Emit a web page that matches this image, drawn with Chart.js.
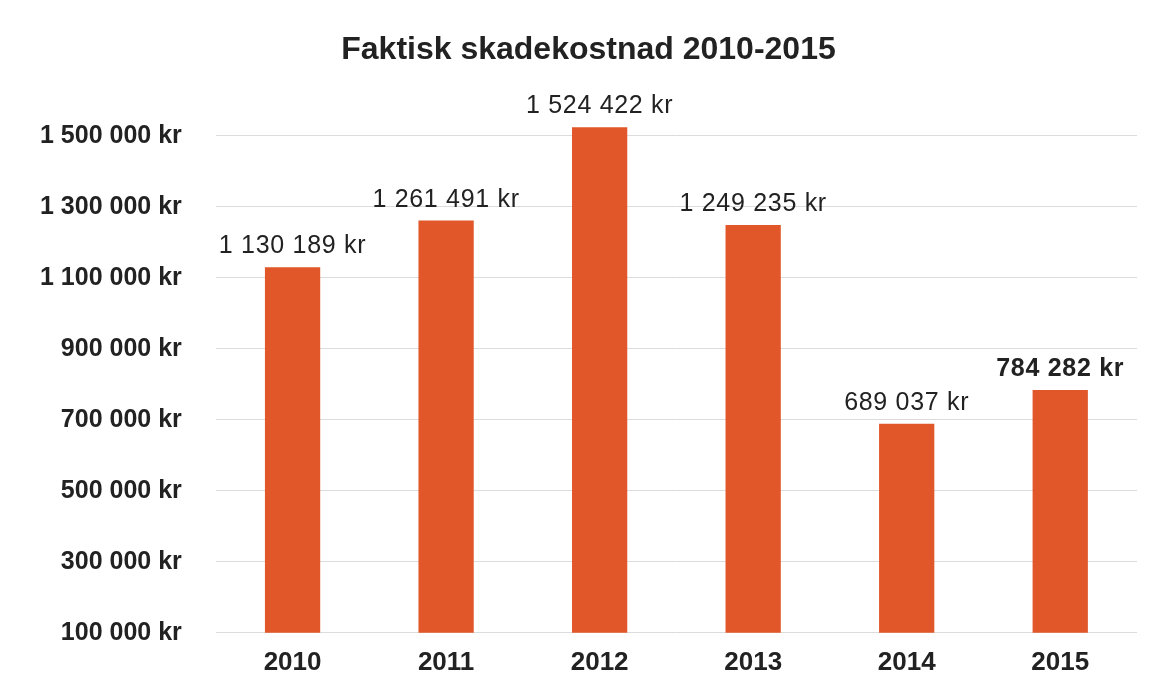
<!DOCTYPE html>
<html>
<head>
<meta charset="utf-8">
<script src="https://cdn.jsdelivr.net/npm/chart.js@4.4.0/dist/chart.umd.min.js"></script>
<style>
  html, body { margin: 0; padding: 0; background: #fff; }
  #wrap { width: 1153px; height: 692px; }
</style>
</head>
<body>
<div id="wrap"><canvas id="myChart"></canvas></div>
<script>
let years = ['2010', '2011', '2012', '2013', '2014', '2015']
let kostnad = [1130189, 1261491, 1524422, 1249235, 689037, 784282]
let tickVals = [100000, 300000, 500000, 700000, 900000, 1100000, 1300000, 1500000]
let boldLabel = [false, false, false, false, false, true]

function kr(v) {
    return String(v).replace(/\B(?=(\d{3})+(?!\d))/g, ' ') + ' kr'
}

// value labels over the bars
const barLabels = {
    id: 'barLabels',
    afterDatasetsDraw(chart) {
        const ctx = chart.ctx
        const meta = chart.getDatasetMeta(0)
        ctx.save()
        ctx.fillStyle = '#222'
        ctx.textAlign = 'center'
        ctx.textBaseline = 'alphabetic'
        ctx.letterSpacing = '0.7px'
        meta.data.forEach((bar, i) => {
            ctx.font = (boldLabel[i] ? 'bold ' : '') + '25px "Liberation Sans", Arial, sans-serif'
            ctx.fillText(kr(kostnad[i]), bar.x, bar.y - 14)
        })
        ctx.restore()
    }
}

const ctx = document.getElementById('myChart')

new Chart(ctx, {
    type: 'bar',
    data: {
        labels: years,
        datasets: [{
            data: kostnad,
            backgroundColor: '#e2572a',
            borderWidth: 0,
            barPercentage: 0.36,
            categoryPercentage: 1
        }]
    },
    options: {
        responsive: true,
        maintainAspectRatio: false,
        animation: false,
        layout: {
            padding: { left: 40, right: 16, top: 0, bottom: 0 }
        },
        plugins: {
            legend: { display: false },
            tooltip: { enabled: false },
            title: {
                display: true,
                text: 'Faktisk skadekostnad 2010-2015',
                color: '#222',
                font: { family: '"Liberation Sans", Arial, sans-serif', size: 32, weight: 'bold' },
                padding: { top: 31, bottom: 31 }
            }
        },
        scales: {
            x: {
                grid: { display: false, drawTicks: false },
                border: { display: false },
                ticks: {
                    color: '#222',
                    padding: 14,
                    font: { family: '"Liberation Sans", Arial, sans-serif', size: 26, weight: 'bold' }
                }
            },
            y: {
                min: 100000,
                max: 1600000,
                afterBuildTicks(axis) {
                    axis.ticks = tickVals.map(v => ({ value: v }))
                },
                afterFit(axis) {
                    axis.width -= 34
                },
                grid: { color: '#dcdcdc', lineWidth: 1, drawTicks: false },
                border: { display: false },
                ticks: {
                    color: '#222',
                    padding: 34,
                    font: { family: '"Liberation Sans", Arial, sans-serif', size: 25, weight: 'bold' },
                    callback: (v) => kr(v)
                }
            }
        }
    },
    plugins: [barLabels]
})
</script>
</body>
</html>
